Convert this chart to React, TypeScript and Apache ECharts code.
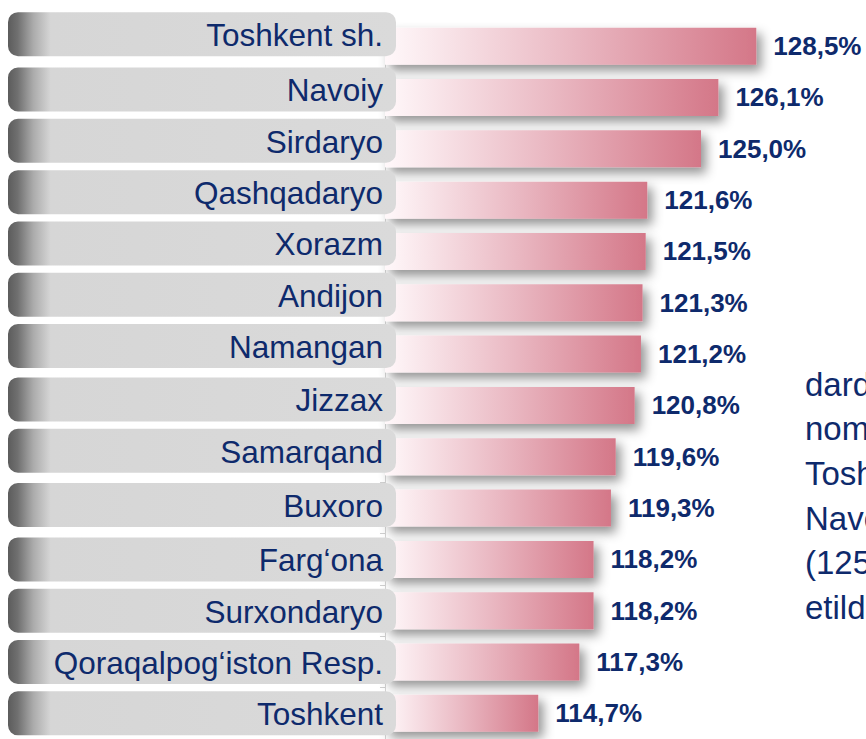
import React, { useEffect, useRef } from "react";
import * as echarts from "echarts";

const categories = [
  "Toshkent sh.",
  "Navoiy",
  "Sirdaryo",
  "Qashqadaryo",
  "Xorazm",
  "Andijon",
  "Namangan",
  "Jizzax",
  "Samarqand",
  "Buxoro",
  "Farg‘ona",
  "Surxondaryo",
  "Qoraqalpog‘iston Resp.",
  "Toshkent",
];
const values = [128.5, 126.1, 125.0, 121.6, 121.5, 121.3, 121.2, 120.8, 119.6, 119.3, 118.2, 118.2, 117.3, 114.7];
const sideText = ["darda", "nominal", "Toshkent sh.", "Navoiy", "(125,0%)", "etildi"];

// layout: vertical lift of each label tab above its bar (px)
const LABEL_LIFT = [12, 8, 8, 8, 8, 8, 8, 6, 6, 3, 0, 0, 0, 0];

const AXIS_MIN = 105;
const AXIS_MAX = 130;
const NAVY = "#0e2a6c";
const FONT = "'Liberation Sans', Arial, sans-serif";

export default function App() {
  const ref = useRef<HTMLDivElement>(null);
  useEffect(() => {
    if (!ref.current) return;
    const chart = echarts.init(ref.current, null, { renderer: "svg" });
    const option = {
      animation: false,
      backgroundColor: "#ffffff",
      grid: { left: 385, top: 20.5, width: 395, height: 728, containLabel: false },
      xAxis: {
        type: "value",
        min: AXIS_MIN,
        max: AXIS_MAX,
        show: false,
        splitLine: { show: false },
      },
      yAxis: {
        type: "category",
        inverse: true,
        data: categories,
        axisLabel: { show: false },
        axisLine: { show: true, lineStyle: { color: "#d4d4d4", width: 1 } },
        axisTick: { show: true, length: 5, lineStyle: { color: "#cfcfcf" } },
        splitLine: { show: false },
      },
      series: [
        {
          type: "bar",
          data: values,
          barWidth: 37,
          z: 2,
          itemStyle: {
            color: new echarts.graphic.LinearGradient(0, 0, 1, 0, [
              { offset: 0, color: "#fff8fa" },
              { offset: 0.5, color: "#eab9c3" },
              { offset: 1, color: "#d47788" },
            ]),
            shadowColor: "rgba(0,0,0,0.42)",
            shadowBlur: 11,
            shadowOffsetX: 5,
            shadowOffsetY: 6,
          },
          label: {
            show: true,
            position: "right",
            distance: 17,
            color: NAVY,
            fontSize: 26,
            fontWeight: "bold",
            fontFamily: FONT,
            formatter: (p: any) => p.value.toFixed(1).replace(".", ",") + "%",
          },
        },
        {
          type: "custom",
          z: 4,
          clip: false,
          data: categories.map((_, i) => [AXIS_MIN, i]),
          renderItem: (params: any, api: any) => {
            const idx = api.value(1);
            const pt = api.coord([AXIS_MIN, idx]);
            const cy = pt[1] - LABEL_LIFT[idx];
            const right = pt[0] + 11;
            const left = 8;
            const h = 44;
            return {
              type: "group",
              children: [
                {
                  type: "rect",
                  shape: { x: left, y: cy - h / 2, width: right - left, height: h, r: 10 },
                  style: {
                    fill: new echarts.graphic.LinearGradient(0, 0, 1, 0, [
                      { offset: 0, color: "#5c5c5c" },
                      { offset: 0.025, color: "#707070" },
                      { offset: 0.065, color: "#ababab" },
                      { offset: 0.11, color: "#d6d6d6" },
                      { offset: 1, color: "#dadada" },
                    ]),
                  },
                },
                {
                  type: "text",
                  style: {
                    text: categories[idx],
                    x: pt[0] - 2,
                    y: cy + 1,
                    align: "right",
                    verticalAlign: "middle",
                    fill: NAVY,
                    fontSize: 31.5,
                    fontFamily: FONT,
                  },
                },
              ],
            };
          },
        },
      ],
      graphic: [
        {
          type: "text",
          left: 805,
          top: 362,
          z: 10,
          style: {
            text: sideText.join("\n"),
            fill: NAVY,
            fontSize: 33,
            lineHeight: 44.6,
            fontFamily: FONT,
          },
        },
      ],
    };
    chart.setOption(option as any);
    return () => chart.dispose();
  }, []);
  return (
    <div
      ref={ref}
      style={{ position: "absolute", left: 0, top: 0, width: 866, height: 739, overflow: "hidden" }}
    />
  );
}
